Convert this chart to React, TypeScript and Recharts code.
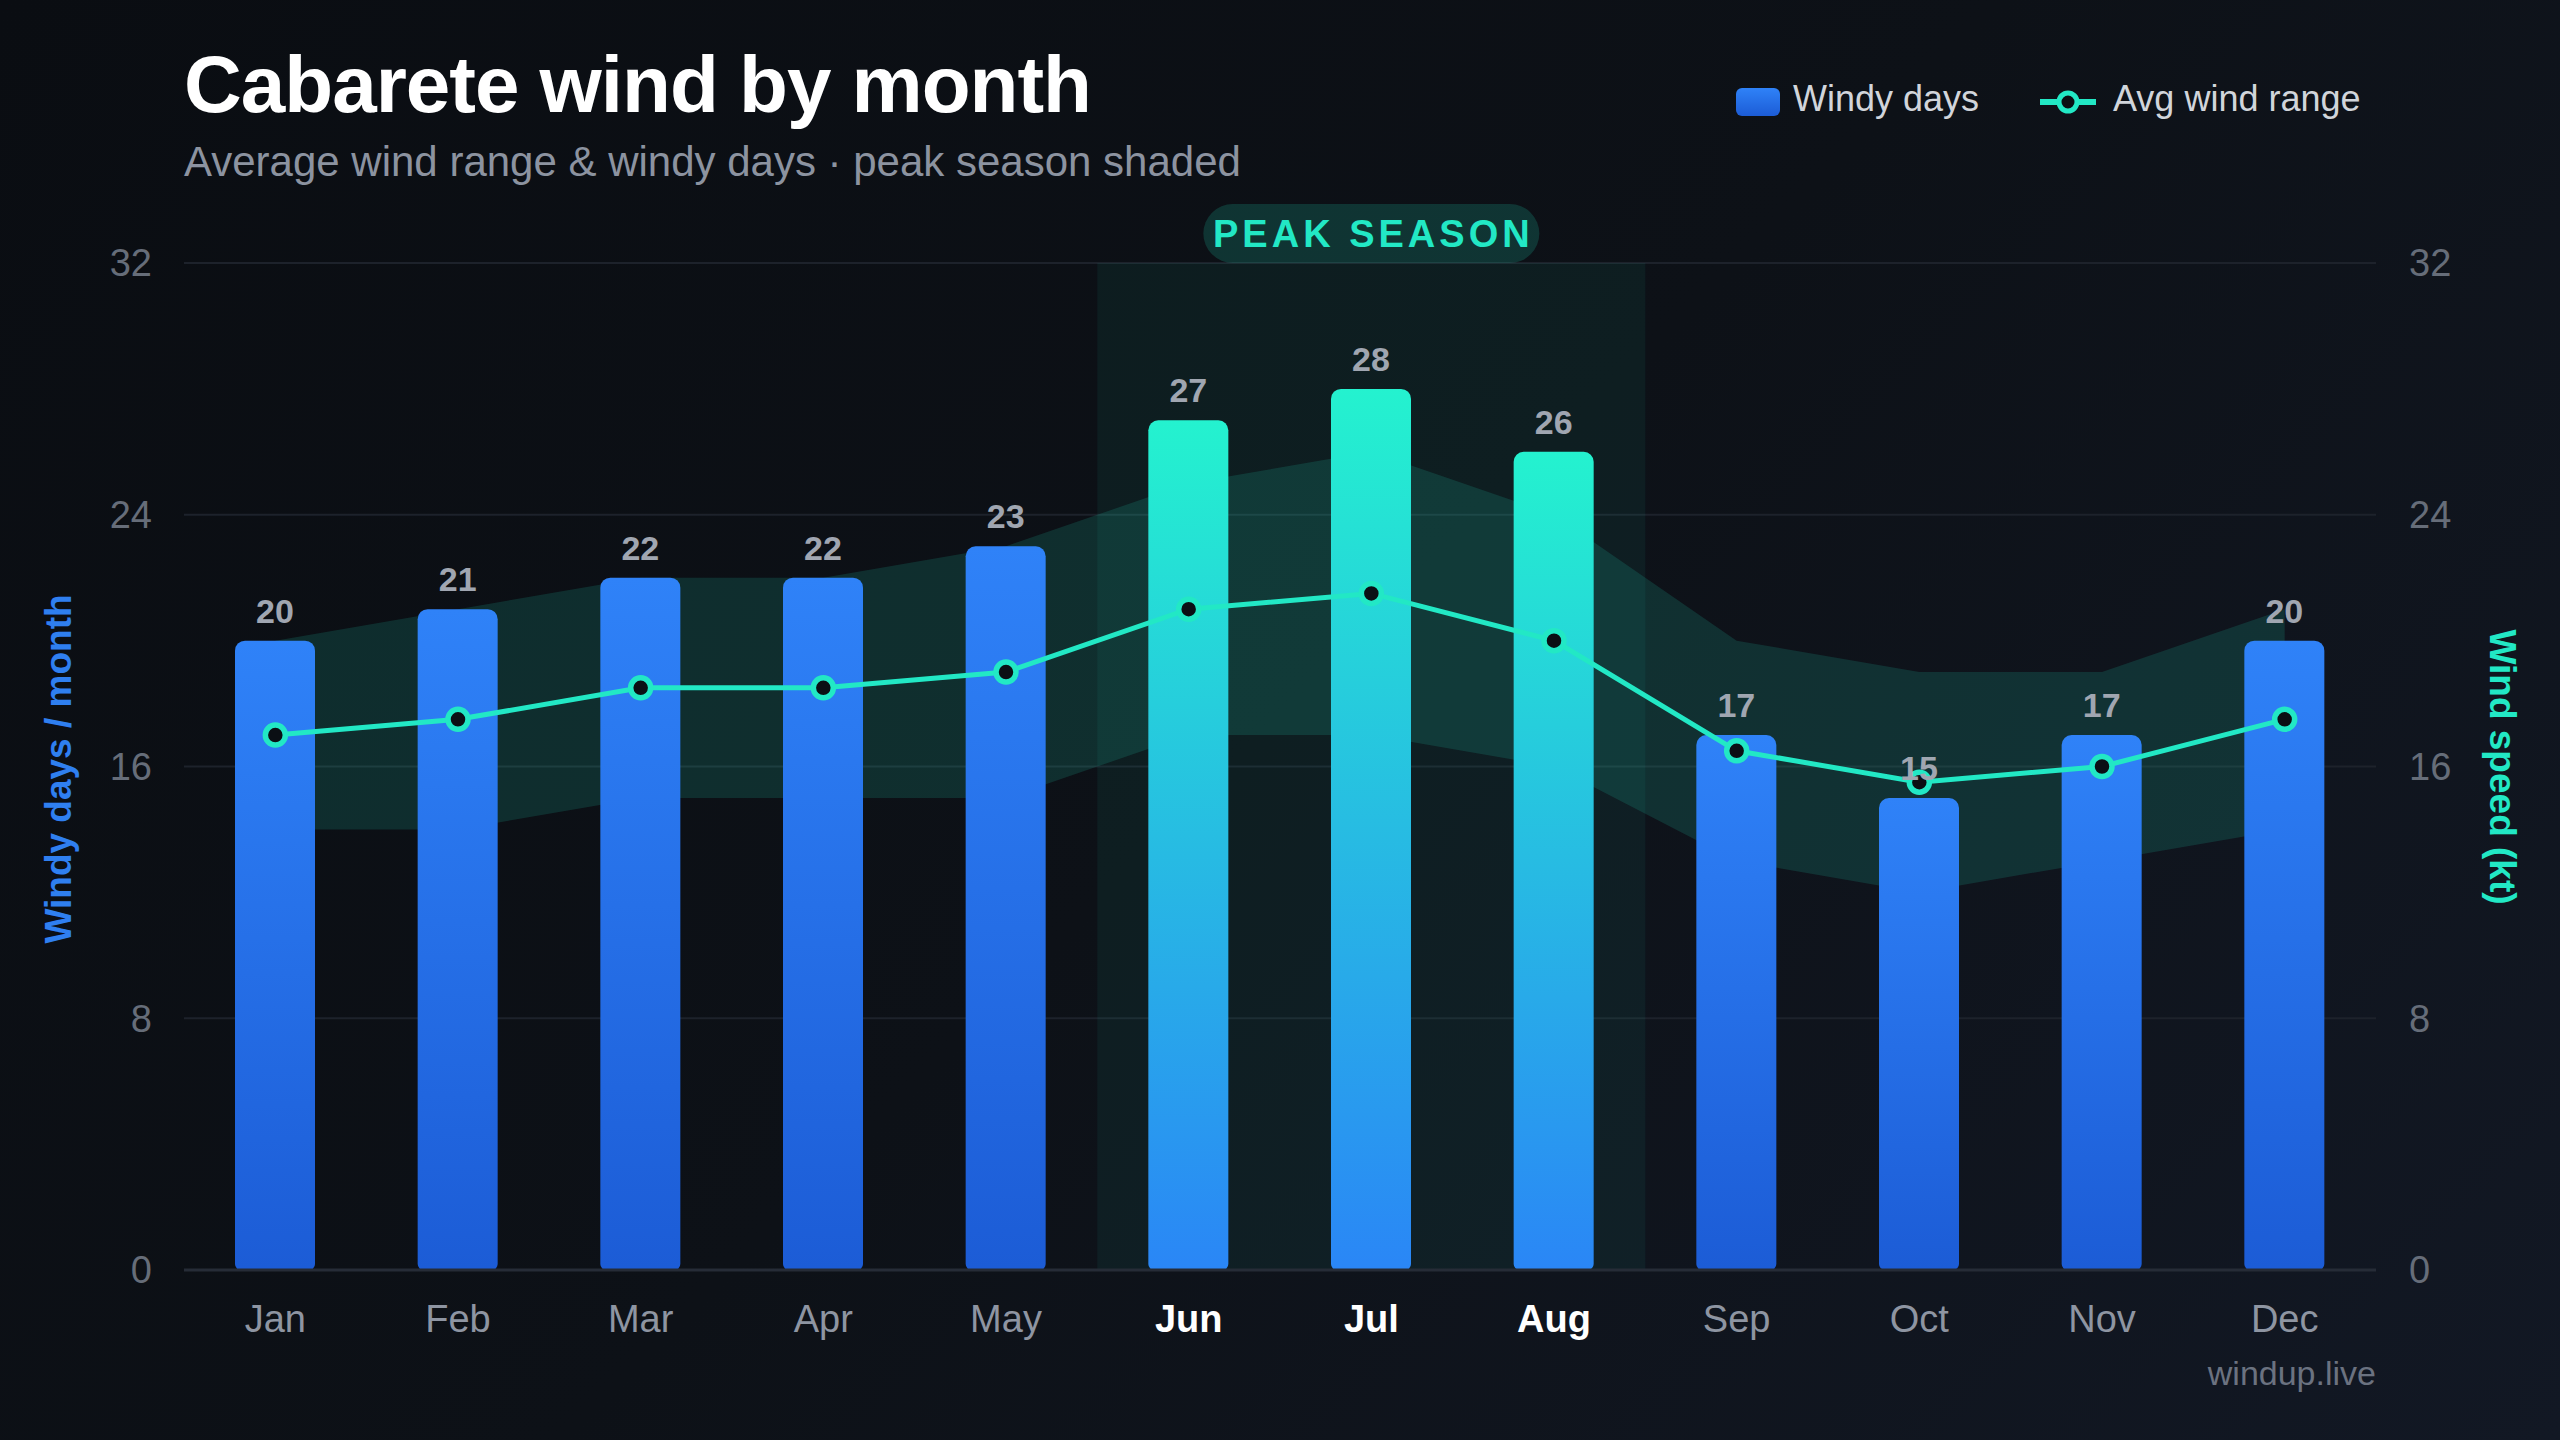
import {
  ComposedChart,
  Bar,
  Line,
  Area,
  XAxis,
  YAxis,
  CartesianGrid,
  ReferenceArea,
  LabelList,
  Cell,
} from 'recharts'

const months = ['Jan', 'Feb', 'Mar', 'Apr', 'May', 'Jun', 'Jul', 'Aug', 'Sep', 'Oct', 'Nov', 'Dec']
const windyDays = [20, 21, 22, 22, 23, 27, 28, 26, 17, 15, 17, 20]
const avgWind = [17, 17.5, 18.5, 18.5, 19, 21, 21.5, 20, 16.5, 15.5, 16, 17.5]
const windLow = [14, 14, 15, 15, 15, 17, 17, 16, 13, 12, 13, 14]
const windHigh = [20, 21, 22, 22, 23, 25, 26, 24, 20, 19, 19, 21]
const peakMonths = ['Jun', 'Jul', 'Aug']
const axisTicks = [0, 8, 16, 24, 32]

const FONT = '"Liberation Sans", Arial, Helvetica, sans-serif'
const TEAL = '#22e8c5'
const BLUE = '#2f7ff0'

const data = months.map((m, i) => ({
  month: m,
  days: windyDays[i],
  avg: avgWind[i],
  range: [windLow[i], windHigh[i]],
  peak: peakMonths.includes(m),
}))

function MonthTick({ x, y, payload }: any) {
  const peak = peakMonths.includes(payload.value)
  return (
    <text
      x={x}
      y={y}
      dy={62}
      textAnchor="middle"
      fill={peak ? '#ffffff' : '#8e95a2'}
      fontWeight={peak ? 700 : 400}
      fontSize={38}
      fontFamily={FONT}
    >
      {payload.value}
    </text>
  )
}

// pill that sits on top of the shaded peak band
function PeakBadge(props: any) {
  const vb = props.viewBox
  if (!vb) return null
  const cx = vb.x + vb.width / 2
  const top = vb.y - 59
  return (
    <g>
      <rect x={cx - 168} y={top} width={336} height={59} rx={29.5} fill={TEAL} fillOpacity={0.17} />
      <text
        x={cx + 2}
        y={top + 43}
        textAnchor="middle"
        fill={TEAL}
        fontSize={38}
        fontWeight={700}
        letterSpacing={4}
        fontFamily={FONT}
      >
        PEAK SEASON
      </text>
    </g>
  )
}

const abs = (style: React.CSSProperties): React.CSSProperties => ({
  position: 'absolute',
  whiteSpace: 'nowrap',
  fontFamily: FONT,
  lineHeight: 1,
  ...style,
})

export default function App() {
  const tickStyle = { fill: '#666d79', fontSize: 38, fontFamily: FONT }

  return (
    <div
      style={{
        position: 'absolute',
        left: 0,
        top: 0,
        width: 2560,
        height: 1440,
        overflow: 'hidden',
        background: 'linear-gradient(135deg, #0a0d12 0%, #0d1117 50%, #121824 100%)',
      }}
    >
      <div style={{ position: 'absolute', left: 0, top: 0 }}>
        <ComposedChart
          width={2560}
          height={1440}
          data={data}
          margin={{ top: 263, right: 84, bottom: 80, left: 84 }}
        >
          <defs>
            <linearGradient id="dayFill" x1="0" y1="0" x2="0" y2="1">
              <stop offset="0%" stopColor="#2f82f8" />
              <stop offset="100%" stopColor="#1c5cd6" />
            </linearGradient>
            <linearGradient id="peakFill" x1="0" y1="0" x2="0" y2="1">
              <stop offset="0%" stopColor="#24f2cf" />
              <stop offset="100%" stopColor="#2a86f6" />
            </linearGradient>
          </defs>
          <CartesianGrid yAxisId="days" vertical={false} stroke="#1d222b" strokeWidth={2} />
          <XAxis
            dataKey="month"
            height={90}
            tickLine={false}
            tickSize={0}
            tickMargin={0}
            axisLine={{ stroke: '#262c37', strokeWidth: 3 }}
            tick={<MonthTick />}
            interval={0}
          />
          <YAxis
            yAxisId="days"
            width={100}
            domain={[0, 32]}
            ticks={axisTicks}
            axisLine={false}
            tickLine={false}
            tickSize={0}
            tickMargin={32}
            tick={tickStyle}
          />
          <YAxis
            yAxisId="kt"
            orientation="right"
            width={100}
            domain={[0, 32]}
            ticks={axisTicks}
            axisLine={false}
            tickLine={false}
            tickSize={0}
            tickMargin={33}
            tick={tickStyle}
          />
          <ReferenceArea
            yAxisId="days"
            x1="Jun"
            x2="Aug"
            fill={TEAL}
            fillOpacity={0.06}
            stroke="none"
            label={PeakBadge}
          />
          <Area
            yAxisId="kt"
            dataKey="range"
            type="linear"
            stroke="none"
            fill={TEAL}
            fillOpacity={0.14}
            activeDot={false}
            isAnimationActive={false}
          />
          <Bar yAxisId="days" dataKey="days" barSize={80} radius={[10, 10, 6, 6]} isAnimationActive={false}>
            {data.map((d) => (
              <Cell key={d.month} fill={d.peak ? 'url(#peakFill)' : 'url(#dayFill)'} />
            ))}
            <LabelList
              dataKey="days"
              position="top"
              offset={18}
              fill="#a0a6b1"
              fontSize={34}
              fontWeight={700}
              fontFamily={FONT}
            />
          </Bar>
          <Line
            yAxisId="kt"
            dataKey="avg"
            type="linear"
            stroke={TEAL}
            strokeWidth={5}
            dot={{ r: 10, fill: '#0b0f14', stroke: TEAL, strokeWidth: 5.5 }}
            activeDot={false}
            isAnimationActive={false}
          />
        </ComposedChart>
      </div>

      <div style={abs({ left: 184, top: 45, fontSize: 80, fontWeight: 700, color: '#ffffff', letterSpacing: -1 })}>
        Cabarete wind by month
      </div>
      <div style={abs({ left: 184, top: 141, fontSize: 42, color: '#8c93a0' })}>
        Average wind range &amp; windy days · peak season shaded
      </div>

      {/* legend */}
      <div
        style={{
          position: 'absolute',
          left: 1736,
          top: 88,
          width: 44,
          height: 28,
          borderRadius: 6,
          background: 'linear-gradient(180deg, #2f82f8, #1c5cd6)',
        }}
      />
      <div style={abs({ left: 1793, top: 81, fontSize: 36, color: '#d1d5db' })}>Windy days</div>
      <svg style={{ position: 'absolute', left: 2040, top: 88 }} width={56} height={28}>
        <line x1={0} y1={14} x2={56} y2={14} stroke={TEAL} strokeWidth={6} />
        <circle cx={28} cy={14} r={9} fill="#0b0f14" stroke={TEAL} strokeWidth={5} />
      </svg>
      <div style={abs({ left: 2113, top: 81, fontSize: 36, color: '#d1d5db' })}>Avg wind range</div>

      {/* axis titles */}
      <div
        style={abs({
          left: 58,
          top: 769,
          fontSize: 37,
          fontWeight: 700,
          color: BLUE,
          transform: 'translate(-50%, -50%) rotate(-90deg)',
        })}
      >
        Windy days / month
      </div>
      <div
        style={abs({
          left: 2502,
          top: 767,
          fontSize: 37,
          fontWeight: 700,
          color: TEAL,
          transform: 'translate(-50%, -50%) rotate(90deg)',
        })}
      >
        Wind speed (kt)
      </div>

      <div style={abs({ right: 184, top: 1356, fontSize: 34, color: '#6b7280' })}>windup.live</div>
    </div>
  )
}
